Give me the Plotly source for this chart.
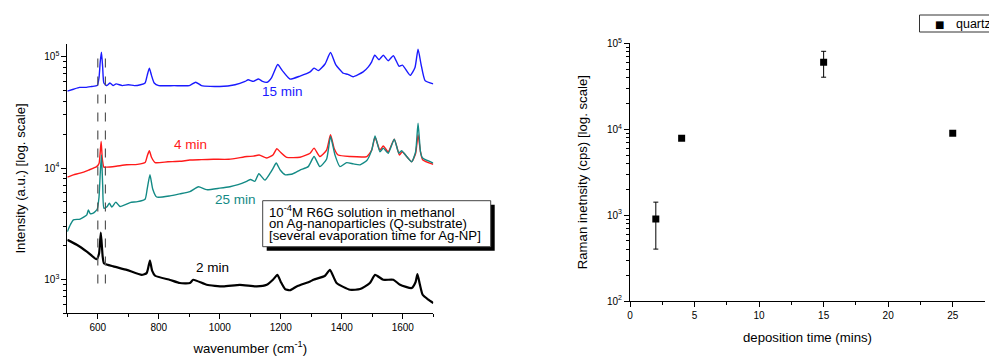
import numpy as np
import plotly.graph_objects as go

# ---------------- data: Raman spectra (left panel) ----------------
x_15 = [500, 520, 540, 560, 580, 598, 604, 608, 612, 616, 620, 630, 640, 650, 660, 680, 700, 720, 740, 755,
        762, 769, 776, 785, 800, 850, 900, 921, 940, 1000, 1050, 1083, 1093, 1110, 1127, 1140, 1155, 1170,
        1190, 1205, 1230, 1263, 1296, 1309, 1323, 1345, 1363, 1380, 1405, 1420, 1437, 1470, 1487, 1498, 1508,
        1522, 1536, 1552, 1569, 1588, 1599, 1624, 1640, 1650, 1660, 1673, 1700]
y_15 = [4.9e4, 5.1e4, 5.3e4, 5.3e4, 5.4e4, 5.5e4, 6.5e4, 9.0e4, 1.1e5, 8.0e4, 5.8e4, 5.5e4, 5.8e4, 5.5e4,
        5.7e4, 5.5e4, 5.6e4, 5.5e4, 5.6e4, 5.8e4, 6.8e4, 7.9e4, 6.8e4, 5.8e4, 5.5e4, 5.5e4, 5.5e4, 5.9e4,
        5.5e4, 5.4e4, 5.6e4, 6.0e4, 6.2e4, 6.0e4, 6.3e4, 6.0e4, 5.9e4, 6.5e4, 8.5e4, 7.5e4, 6.3e4, 6.7e4,
        7.3e4, 7.9e4, 7.5e4, 8.6e4, 1.09e5, 8.5e4, 7.1e4, 6.95e4, 6.6e4, 7.3e4, 8.1e4, 9.0e4, 1.03e5, 9.4e4,
        1.03e5, 9.2e4, 1.02e5, 8.2e4, 8.4e4, 6.8e4, 8.0e4, 1.17e5, 8.5e4, 6.1e4, 5.7e4]

x_4 = [500, 520, 542, 570, 596, 604, 608, 611, 615, 620, 629, 660, 695, 730, 755, 762, 769, 776, 788, 830,
       869, 902, 940, 979, 1030, 1089, 1110, 1129, 1154, 1175, 1187, 1200, 1219, 1263, 1296, 1309, 1328,
       1350, 1363, 1375, 1388, 1427, 1482, 1498, 1509, 1525, 1536, 1552, 1572, 1589, 1598, 1629, 1642, 1650,
       1658, 1665, 1700]
y_4 = [8.3e3, 8.7e3, 9.0e3, 9.6e3, 1.03e4, 1.1e4, 1.4e4, 1.73e4, 1.2e4, 1.02e4, 1.02e4, 1.04e4, 1.07e4,
       1.08e4, 1.12e4, 1.28e4, 1.43e4, 1.25e4, 1.12e4, 1.14e4, 1.15e4, 1.18e4, 1.19e4, 1.2e4, 1.2e4, 1.27e4,
       1.28e4, 1.31e4, 1.23e4, 1.32e4, 1.49e4, 1.38e4, 1.25e4, 1.25e4, 1.36e4, 1.51e4, 1.27e4, 1.45e4,
       1.99e4, 1.5e4, 1.31e4, 1.27e4, 1.27e4, 1.45e4, 1.89e4, 1.45e4, 1.58e4, 1.40e4, 1.82e4, 1.31e4,
       1.40e4, 1.14e4, 1.35e4, 1.99e4, 1.4e4, 1.19e4, 1.08e4]

x_25 = [500, 510, 520, 542, 564, 569, 575, 585, 598, 604, 608, 612, 616, 620, 630, 638, 646, 659, 673, 706,
        730, 755, 762, 771, 780, 793, 837, 869, 902, 930, 957, 1000, 1033, 1060, 1088, 1101, 1115, 1128,
        1148, 1165, 1175, 1185, 1198, 1215, 1240, 1263, 1290, 1309, 1328, 1350, 1363, 1378, 1394, 1416,
        1438, 1460, 1482, 1498, 1509, 1525, 1536, 1552, 1572, 1587, 1596, 1629, 1642, 1650, 1658, 1665, 1700]
y_25 = [2.69e3, 3.1e3, 3.43e3, 3.48e3, 3.8e3, 4.2e3, 3.9e3, 3.94e3, 4.27e3, 5.5e3, 9.0e3, 1.31e4, 7.0e3,
        4.37e3, 4.5e3, 4.84e3, 4.46e3, 4.95e3, 4.52e3, 4.9e3, 5.0e3, 5.26e3, 6.5e3, 8.7e3, 6.5e3, 5.5e3,
        5.63e3, 5.87e3, 6.15e3, 6.8e3, 6.4e3, 6.6e3, 6.8e3, 7.1e3, 7.6e3, 7.9e3, 7.6e3, 8.9e3, 7.8e3, 9.0e3,
        1.0e4, 1.11e4, 9.6e3, 8.7e3, 8.9e3, 9.6e3, 1.03e4, 1.27e4, 1.03e4, 1.2e4, 1.92e4, 1.3e4, 1.03e4,
        1.12e4, 1.09e4, 1.07e4, 1.17e4, 1.45e4, 1.94e4, 1.40e4, 1.51e4, 1.36e4, 1.82e4, 1.36e4, 1.43e4,
        1.14e4, 1.4e4, 2.53e4, 1.4e4, 1.23e4, 1.11e4]

x_2 = [500, 531, 564, 596, 604, 610, 616, 620, 651, 695, 744, 760, 766, 771, 778, 788, 837, 869, 902, 913,
       957, 1011, 1066, 1121, 1154, 1175, 1189, 1200, 1214, 1230, 1252, 1296, 1307, 1345, 1361, 1383, 1427,
       1460, 1492, 1509, 1536, 1569, 1591, 1629, 1642, 1648, 1656, 1665, 1684, 1700]
y_2 = [2.27e3, 2.05e3, 1.78e3, 1.52e3, 1.7e3, 2.64e3, 1.6e3, 1.40e3, 1.31e3, 1.22e3, 1.10e3, 1.14e3, 1.3e3,
       1.48e3, 1.2e3, 1.08e3, 990, 929, 929, 994, 896, 866, 896, 866, 896, 1.0e3, 1.10e3, 950, 820, 800,
       866, 959, 994, 1.08e3, 1.22e3, 929, 808, 820, 929, 1.10e3, 994, 994, 896, 838, 950, 1.12e3, 900,
       729, 658, 614]

spectra_names = ["15 min", "4 min", "25 min", "2 min"]
spectra_colors = ["#1a1aff", "#ff1a1a", "#138a85", "#000000"]
label_x = [1206, 905, 1050, 975]
label_y = [4.85e4, 1.64e4, 5.26e3, 1.29e3]

# dashed guide lines
guide_x = [600, 625]
guide_y = [920, 1.11e5]

# ---------------- data: deposition time (right panel) ----------------
dep_time = [2, 4, 15, 25]
raman_int = [900, 7.86e3, 6.0e4, 8.98e3]
err_upper = [1415, 7.86e3, 8.07e4, 8.98e3]
err_lower = [402, 7.86e3, 4.03e4, 8.98e3]
series_name = "quartz"

FONT = "Liberation Sans, Arial, sans-serif"
W, H = 989, 356

fig = go.Figure()

spec = [(x_15, y_15), (x_4, y_4), (x_25, y_25), (x_2, y_2)]
for (xs, ys), name, col in zip(spec, spectra_names, spectra_colors):
    fig.add_trace(go.Scatter(x=xs, y=ys, mode="lines", name=name, showlegend=False,
                             line=dict(color=col, width=2.2 if col == "#000000" else 1.4,
                                       shape="spline", smoothing=0.5),
                             xaxis="x", yaxis="y"))

for gx in guide_x:
    fig.add_trace(go.Scatter(x=[gx, gx], y=guide_y, mode="lines", showlegend=False,
                             line=dict(color="#555555", width=1.2, dash="dash"),
                             xaxis="x", yaxis="y"))

fig.add_trace(go.Scatter(
    x=dep_time, y=raman_int, mode="markers", name=series_name, showlegend=False,
    marker=dict(symbol="square", size=7, color="black"),
    error_y=dict(type="data", symmetric=False,
                 array=[u - v for u, v in zip(err_upper, raman_int)],
                 arrayminus=[v - l for v, l in zip(raman_int, err_lower)],
                 color="black", thickness=1, width=2.5),
    xaxis="x2", yaxis="y2"))


def px2paper_x(px):
    return px / W


def px2paper_y(py):
    return (H - py) / H


annotations = []
for name, col, lx, ly in zip(spectra_names, spectra_colors, label_x, label_y):
    annotations.append(dict(x=lx, y=np.log10(ly), xref="x", yref="y", text=name, showarrow=False,
                            font=dict(family=FONT, size=13.5, color=col)))

box_lines = ["10<sup>-4</sup>M R6G solution in methanol",
             "on Ag-nanoparticles (Q-substrate)",
             "[several evaporation time for Ag-NP]"]
for i, t in enumerate(box_lines):
    annotations.append(dict(x=px2paper_x(267), y=px2paper_y(211.5 + 12.0 * i), xref="paper", yref="paper",
                            xanchor="left", yanchor="middle", text=t, showarrow=False,
                            font=dict(family=FONT, size=13.2, color="black")))

# manual legend (box cut by the right edge as in the reference)
annotations.append(dict(x=px2paper_x(939), y=px2paper_y(24), xref="paper", yref="paper",
                        xanchor="center", yanchor="middle", text="■", showarrow=False,
                        font=dict(family="DejaVu Sans", size=10, color="black")))
annotations.append(dict(x=px2paper_x(954), y=px2paper_y(24), xref="paper", yref="paper",
                        xanchor="left", yanchor="middle", text=series_name, showarrow=False,
                        font=dict(family=FONT, size=12.5, color="black")))

shapes = [
    dict(type="rect", xref="paper", yref="paper", x0=px2paper_x(266.7), x1=px2paper_x(494.7),
         y0=px2paper_y(250.7), y1=px2paper_y(204.7), fillcolor="black", line=dict(width=0), layer="above"),
    dict(type="rect", xref="paper", yref="paper", x0=px2paper_x(262.7), x1=px2paper_x(490.7),
         y0=px2paper_y(246.7), y1=px2paper_y(200.7), fillcolor="white",
         line=dict(color="#444444", width=1), layer="above"),
    dict(type="rect", xref="paper", yref="paper", x0=px2paper_x(919.5), x1=px2paper_x(1005),
         y0=px2paper_y(32), y1=px2paper_y(15), fillcolor="white",
         line=dict(color="#333333", width=1), layer="below"),
]

tick_font = dict(family=FONT, size=10, color="black")
title_font = dict(family=FONT, size=13.2, color="black")


def minor_log(decades):
    vals = []
    for d in decades:
        for m in range(2, 10):
            vals.append(m * 10 ** d)
    return vals


fig.update_layout(
    width=W, height=H,
    margin=dict(l=0, r=0, t=0, b=0, autoexpand=False),
    paper_bgcolor="white", plot_bgcolor="rgba(0,0,0,0)",
    font=dict(family=FONT, color="black"),
    xaxis=dict(domain=[px2paper_x(67.3), px2paper_x(433.3)], range=[500, 1700], anchor="y",
               showgrid=False, zeroline=False, showline=True, linecolor="black", linewidth=1,
               ticks="outside", ticklen=5, tickcolor="black", tickvals=[600, 800, 1000, 1200, 1400, 1600],
               tickfont=tick_font,
               minor=dict(tickvals=[500, 700, 900, 1100, 1300, 1500, 1700], ticks="outside", ticklen=3,
                          tickcolor="black", showgrid=False),
               title=dict(text="wavenumber (cm<sup>-1</sup>)", font=title_font, standoff=14)),
    yaxis=dict(domain=[px2paper_y(313), px2paper_y(44)], type="log",
               range=[np.log10(500), np.log10(1.3e5)], anchor="x",
               showgrid=False, zeroline=False, showline=True, linecolor="black", linewidth=1,
               ticks="outside", ticklen=5, tickcolor="black",
               tickvals=[1e3, 1e4, 1e5], ticktext=["10<sup>3</sup>", "10<sup>4</sup>", "10<sup>5</sup>"],
               tickfont=tick_font,
               minor=dict(tickvals=[500, 600, 700, 800, 900] + minor_log([3, 4]), ticks="outside",
                          ticklen=3, tickcolor="black", showgrid=False),
               title=dict(text="Intensity (a.u.) [log. scale]", font=title_font, standoff=15)),
    xaxis2=dict(domain=[px2paper_x(630), px2paper_x(985)], range=[0, 27.5], anchor="y2",
                showgrid=False, zeroline=False, showline=True, linecolor="black", linewidth=1,
                ticks="outside", ticklen=5, tickcolor="black", tickvals=[0, 5, 10, 15, 20, 25],
                tickfont=tick_font,
                minor=dict(tickvals=[2.5, 7.5, 12.5, 17.5, 22.5], ticks="outside", ticklen=3,
                           tickcolor="black", showgrid=False),
                title=dict(text="deposition time (mins)", font=title_font, standoff=12)),
    yaxis2=dict(domain=[px2paper_y(301), px2paper_y(43.3)], type="log", range=[2, 5], anchor="x2",
                showgrid=False, zeroline=False, showline=True, linecolor="black", linewidth=1,
                ticks="outside", ticklen=5, tickcolor="black",
                tickvals=[1e2, 1e3, 1e4, 1e5],
                ticktext=["10<sup>2</sup>", "10<sup>3</sup>", "10<sup>4</sup>", "10<sup>5</sup>"],
                tickfont=tick_font,
                minor=dict(tickvals=minor_log([2, 3, 4]), ticks="outside", ticklen=3, tickcolor="black",
                           showgrid=False),
                title=dict(text="Raman inetnsity (cps) [log. scale]", font=title_font, standoff=16)),
    showlegend=False,
    annotations=annotations,
    shapes=shapes,
)

fig.write_html("out.html")
